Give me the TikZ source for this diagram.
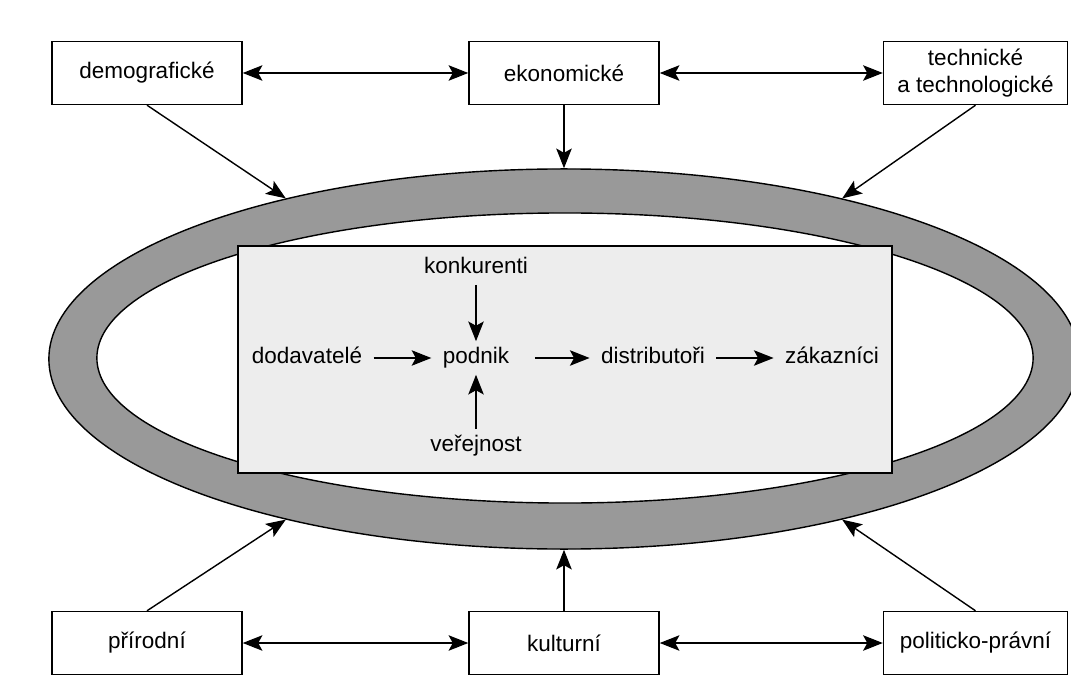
\documentclass[tikz,border=0pt]{standalone}
\usepackage{fontspec}
\setmainfont{Liberation Sans}
\usetikzlibrary{arrows.meta,shapes.geometric}
\definecolor{prstenec}{gray}{0.6}
\definecolor{trhpozadi}{gray}{0.93}
\tikzset{
  popis/.style = {font=\fontsize{16}{19}\selectfont},
  vliv/.style = {popis, rectangle, align=center, draw=black, line width=1pt,
    fill=white, minimum width=4.75cm, minimum height=1.575cm, inner sep=0pt},% faktor makroprostredi
  vliv_p/.style = {vliv, minimum width=4.6cm},% faktor, pravy sloupec
  subjekt/.style = {popis, text height=12pt, text depth=3.5pt,
    inner xsep=8pt, inner ysep=4pt},% subjekt mikroprostredi
  sipka/.style = {line width=1pt, -{Stealth[length=14pt,width=11pt,inset=3pt]}},
  obousipka/.style = {line width=1pt,
    {Stealth[length=14pt,width=11pt,inset=3pt]}-{Stealth[length=14pt,width=11pt,inset=3pt]}}
}

\begin{document}
\begin{tikzpicture}[x=0.025cm, y=-0.025cm]
  \useasboundingbox (0,0) rectangle (1071,682);
  % prstenec okoli
  \node [ellipse, draw=black, line width=1pt, fill=prstenec, inner sep=0pt,
    minimum width=25.75cm, minimum height=9.5cm] (okoli) at (564,359) {};
  \node [ellipse, draw=black, line width=1pt, fill=white, inner sep=0pt,
    minimum width=23.4cm, minimum height=7.25cm] (vnitrek) at (565,358) {};
  \node [rectangle, draw=black, line width=1pt, fill=trhpozadi,
    minimum width=16.35cm, minimum height=5.675cm] (trh) at (565,359.5) {};

  % mikroprostredi
  \node [subjekt] (podnik) at (476,358) {podnik};
  \node [subjekt] (dodavatele) at (307,358) {dodavatelé};
  \node [subjekt] (distributori) at (653,358) {distributoři};
  \node [subjekt] (zakaznici) at (832,358) {zákazníci};
  \node [subjekt] (konkurenti) at (476,268) {konkurenti};
  \node [subjekt] (verejnost) at (476,446) {veřejnost};
  \draw [sipka] (dodavatele) -- (podnik);
  \draw [sipka, shorten <=10pt] (podnik) -- (distributori);
  \draw [sipka] (distributori) -- (zakaznici);
  \draw [sipka] (konkurenti) -- (podnik);
  \draw [sipka] (verejnost) -- (podnik);

  % makroprostredi
  \node [vliv] (demograficke) at (147,73) {demografické};
  \node [vliv] (ekonomicke) at (564,73) {ekonomické};
  \node [vliv_p] (technicke) at (975.5,73) {technické\\a technologické};
  \node [vliv] (prirodni) at (147,643) {přírodní};
  \node [vliv] (kulturni) at (564,643) {kulturní};
  \node [vliv_p] (politicke) at (975.5,643) {politicko-právní};
  \draw [obousipka] (demograficke) -- (ekonomicke);
  \draw [obousipka] (ekonomicke) -- (technicke);
  \draw [obousipka] (prirodni) -- (kulturni);
  \draw [obousipka] (kulturni) -- (politicke);
  \draw [sipka] (ekonomicke) -- (okoli.north);
  \draw [sipka] (kulturni) -- (okoli.south);
  \draw [sipka] (demograficke.south) -- (okoli.150);
  \draw [sipka] (technicke.south) -- (okoli.30);
  \draw [sipka] (prirodni.north) -- (okoli.210);
  \draw [sipka] (politicke.north) -- (okoli.330);
\end{tikzpicture}
\end{document}
